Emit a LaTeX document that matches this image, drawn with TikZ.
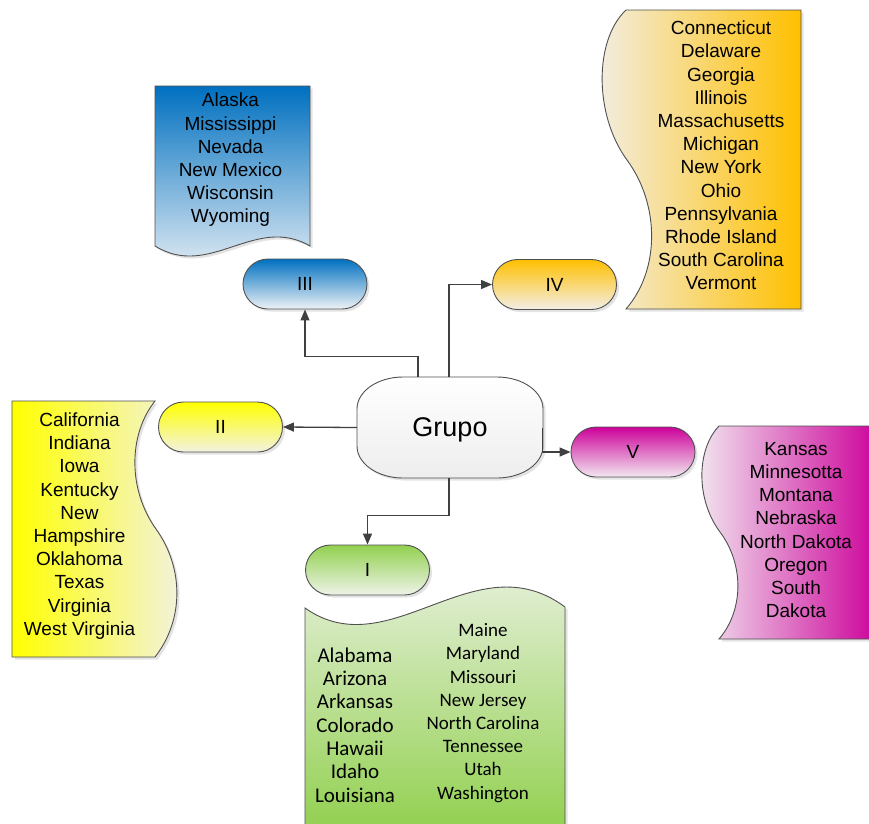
\documentclass[tikz,border=0pt]{standalone}
\usepackage{fontspec}
\setmainfont{Liberation Sans}
\newfontfamily\calib{Carlito}
\usetikzlibrary{arrows.meta,shapes.misc,shadows}
\definecolor{cblue}{HTML}{0070C0}
\definecolor{cbluel}{HTML}{EEF2F6}
\definecolor{corange}{HTML}{FFC000}
\definecolor{corangel}{HTML}{F2EEE6}
\definecolor{cyellow}{HTML}{FFFF00}
\definecolor{cyellowl}{HTML}{F2F2E2}
\definecolor{cmag}{HTML}{CC0099}
\definecolor{cmagl}{HTML}{F2E8F0}
\definecolor{cgreen}{HTML}{92D050}
\definecolor{cgreenl}{HTML}{EEF3E8}
\definecolor{cline}{HTML}{505050}
\definecolor{carrow}{HTML}{404040}
\begin{document}
\begin{tikzpicture}[x=1pt,y=-1pt]
\tikzset{
 shd/.style={drop shadow={opacity=0.22,shadow xshift=2.5pt,shadow yshift=-2.5pt}},
 outl/.style={draw=cline, line width=0.9pt},
 pill/.style={rounded rectangle, minimum width=124pt, minimum height=50pt, outl, shd, font=\fontsize{19}{23}\selectfont, inner sep=0pt},
 lst/.style={align=center, font=\fontsize{19}{23.2}\selectfont, inner sep=0pt, yshift=-2pt},
 arr/.style={draw=carrow, line width=1.3pt, -{Triangle[length=11pt,width=9pt]}}
}
\useasboundingbox (0,0) rectangle (869,823);

% documents
\path[outl, shd, top color=cblue, bottom color=cbluel] (155,86) -- (310,86) -- (310,246) .. controls (255,214) and (210,280) .. (155,246) -- cycle;
\path[outl, shd, left color=cyellow, right color=cyellowl] (12,401) -- (155,401) .. controls (128,435) and (128,490) .. (156,529) .. controls (184,568) and (184,620) .. (155,657) -- (12,657) -- cycle;
\path[outl, shd, left color=corangel, right color=corange] (626,10) -- (801,10) -- (801,309) -- (626,309) .. controls (660,270) and (660,205) .. (627,160) .. controls (594,115) and (594,40) .. (626,10) -- cycle;
\path[outl, shd, left color=cmagl, right color=cmag] (719,426) -- (880,426) -- (880,639) -- (719,639) .. controls (744,610) and (744,564) .. (720,532) .. controls (696,500) and (696,450) .. (719,426) -- cycle;
\path[outl, shd, top color=cgreenl, bottom color=cgreen] (305,608) .. controls (390,668) and (475,540) .. (565,607) -- (565,830) -- (305,830) -- cycle;

% document texts
\node[lst] (t3) at (230.5,158) {Alaska\\Mississippi\\Nevada\\New Mexico\\Wisconsin\\Wyoming};
\node[lst] (t2) at (79.5,524) {California\\Indiana\\Iowa\\Kentucky\\New\\Hampshire\\Oklahoma\\Texas\\Virginia\\West Virginia};
\node[lst] (t4) at (721,153.5) {Connecticut\\Delaware\\Georgia\\Illinois\\Massachusetts\\Michigan\\New York\\Ohio\\Pennsylvania\\Rhode Island\\South Carolina\\Vermont};
\node[lst] (t5) at (796,528) {Kansas\\Minnesotta\\Montana\\Nebraska\\North Dakota\\Oregon\\South\\Dakota};
\node[lst, font=\calib\fontsize{21}{23.3}\selectfont] (t1a) at (355,723) {Alabama\\Arizona\\Arkansas\\Colorado\\Hawaii\\Idaho\\Louisiana};
\node[lst, font=\calib\fontsize{19}{23.2}\selectfont] (t1b) at (483,711) {Maine\\Maryland\\Missouri\\New Jersey\\North Carolina\\Tennessee\\Utah\\Washington};

% pills
\node[pill, top color=cblue, bottom color=cbluel] (p3) at (305,284) {III};
\node[pill, top color=corange, bottom color=corangel] (p4) at (554.5,284.5) {IV};
\node[pill, top color=cyellow, bottom color=cyellowl] (p2) at (220.5,427) {II};
\node[pill, top color=cmag, bottom color=cmagl] (p5) at (633,452) {V};
\node[pill, top color=cgreen, bottom color=cgreenl] (p1) at (367.5,570) {I};

% central shape
\path[outl, shd, top color=white, bottom color=black!7] (403,377) -- (497,377) .. controls (522.4,377) and (543,391.3) .. (543,409) -- (543,446) .. controls (543,463.7) and (522.4,478) .. (497,478) -- (403,478) .. controls (377.6,478) and (357,463.7) .. (357,446) -- (357,409) .. controls (357,391.3) and (377.6,377) .. (403,377) -- cycle;
\node[minimum width=186pt, minimum height=101pt, inner sep=0pt] (grupo) at (450,427.5) {};
\node[inner sep=0pt, font=\fontsize{27}{32}\selectfont, yshift=-2pt] (glabel) at (grupo.center) {Grupo};

% connectors
\draw[arr] ([xshift=-32pt]grupo.north) -- ++(0,-20) -| (p3.south);
\draw[arr] ([xshift=-1pt]grupo.north) |- (p4.west);
\draw[arr] (grupo.west) -- (p2.east);
\draw[arr] ([xshift=-1pt]grupo.east) |- (p5.west);
\draw[arr] ([xshift=-1pt]grupo.south) -- ++(0,37) -| (p1.north);
\end{tikzpicture}
\end{document}
